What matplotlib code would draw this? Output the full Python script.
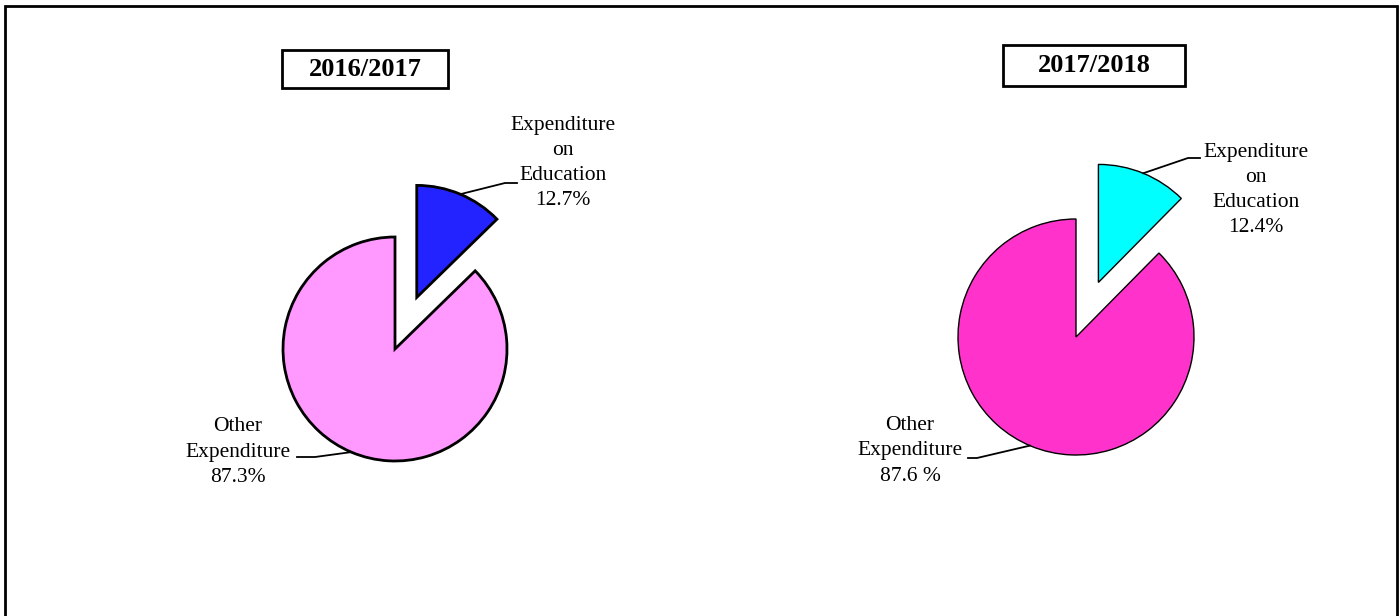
import math

import matplotlib
matplotlib.use("Agg")
import matplotlib.pyplot as plt
from matplotlib.patches import Rectangle

# data
years = ["2016/2017", "2017/2018"]
education_share = [12.7, 12.4]
other_share = [87.3, 87.6]
education_labels = ["Expenditure\non\nEducation\n12.7%", "Expenditure\non\nEducation\n12.4%"]
other_labels = ["Other\nExpenditure\n87.3%", "Other\nExpenditure\n87.6 %"]
education_colors = ["#2323FF", "#00FFFF"]
other_colors = ["#FF99FF", "#FF33CC"]

W, H = 1400, 616
plt.rcParams["font.family"] = ["Liberation Serif", "DejaVu Serif"]

fig = plt.figure(figsize=(W / 100, H / 100), dpi=100)
ax = fig.add_axes([0, 0, 1, 1])

# layout (pixel positions, y measured from top)
centers = [(395, 349), (1076, 337)]
radii = [112, 118]
edge_widths = [2.0, 1.0]
title_boxes = [(282, 50, 166, 38), (1003, 45, 182, 41)]
edu_text_pos = [(563, 163), (1256, 190)]
edu_bends = [(505, 183), (1188, 158)]
edu_ends = [(517, 183), (1200, 158)]
oth_text_pos = [(238, 452), (910, 451)]
oth_bends = [(315, 457), (977, 458)]
oth_ends = [(297, 457), (968, 458)]

for i in range(2):
    cx, cy = centers[i]
    r = radii[i]
    expl = 0.5 * r
    wedges, _ = ax.pie(
        [education_share[i], other_share[i]],
        colors=[education_colors[i], other_colors[i]],
        startangle=90,
        counterclock=False,
        explode=[expl, 0],
        center=(cx, H - cy),
        radius=r,
        wedgeprops=dict(edgecolor="black", linewidth=edge_widths[i]),
    )

    # leader for the education slice, from the middle of its arc
    w = wedges[0]
    ex, ey = w.center
    mid = math.radians((w.theta1 + w.theta2) / 2)
    sx, sy = ex + r * math.cos(mid), ey + r * math.sin(mid)
    bx, by = edu_bends[i]
    tx, ty = edu_ends[i]
    ax.plot([sx, bx, tx], [sy, H - by, H - ty], color="black", lw=1.3)
    ax.text(edu_text_pos[i][0], H - edu_text_pos[i][1], education_labels[i],
            ha="center", va="center", multialignment="center",
            fontsize=15.5, linespacing=1.43)

    # leader for the other slice
    w = wedges[1]
    ox, oy = w.center
    a = math.radians(247)
    sx, sy = ox + r * math.cos(a), oy + r * math.sin(a)
    bx, by = oth_bends[i]
    tx, ty = oth_ends[i]
    ax.plot([sx, bx, tx], [sy, H - by, H - ty], color="black", lw=1.3)
    ax.text(oth_text_pos[i][0], H - oth_text_pos[i][1], other_labels[i],
            ha="center", va="center", multialignment="center",
            fontsize=15.5, linespacing=1.43)

    # year title in a box
    bx0, by0, bw, bh = title_boxes[i]
    ax.add_patch(Rectangle((bx0, H - by0 - bh), bw, bh, fc="white",
                           ec="black", lw=2))
    ax.text(bx0 + bw / 2, H - by0 - bh / 2, years[i], ha="center",
            va="center", fontsize=19, fontweight="bold")

# outer frame (bottom edge falls outside the picture)
ax.add_patch(Rectangle((5, -10), 1392, H - 6 + 10, fc="none", ec="black",
                       lw=2, clip_on=False))

ax.set_xlim(0, W)
ax.set_ylim(0, H)
ax.set_aspect("equal")
ax.axis("off")

fig.savefig("out.png", dpi=100)
